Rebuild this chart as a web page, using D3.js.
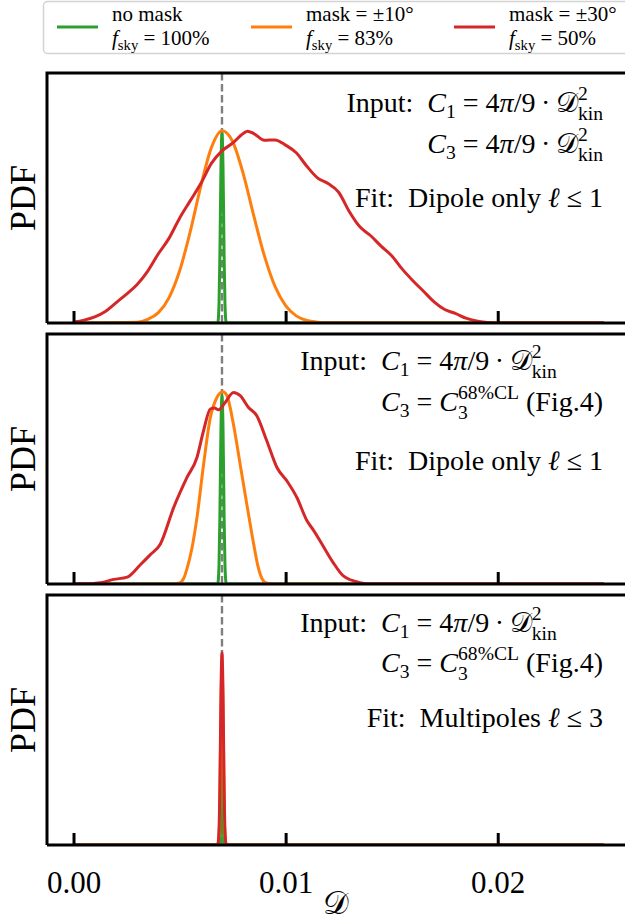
<!DOCTYPE html>
<html><head><meta charset="utf-8">
<script src="https://cdn.jsdelivr.net/npm/d3@7"></script>
<style>
body{margin:0;background:#fff}
svg{display:block}
text{font-family:"Liberation Serif","DejaVu Serif",serif;white-space:pre;fill:#000}
</style>
</head><body><svg id="c" width="625" height="920"></svg>
<script>
// ---------- data ----------
const xTicks = [0, 0.01, 0.02];
const xTickLabels = ["0.00", "0.01", "0.02"];
const trueD = 0.007;
const seriesColors = ["#2ca02c", "#ff7f0e", "#d62728"];
const legendLine1 = ["no mask", "mask = ±10°", "mask = ±30°"];
const legendFsky = ["100%", "83%", "50%"];

// Panel 1 (Input C3 = 4pi/9 Dkin^2, dipole-only fit)
const p1GreenD   = [0, 0.0068, 0.00686, 0.0069, 0.00695, 0.0070, 0.00705, 0.0071, 0.00714, 0.0072, 0.025];
const p1GreenPdf = [0, 0, 0.1, 0.35, 0.8, 0.99, 0.8, 0.35, 0.1, 0, 0];
const p1OrangeD   = [0, 0.0030, 0.0035, 0.0040, 0.0045, 0.0050, 0.0055, 0.0060, 0.0065, 0.0070, 0.0075, 0.0080, 0.0085, 0.0090, 0.0095, 0.0100, 0.0105, 0.0110, 0.0115, 0.0120, 0.025];
const p1OrangePdf = [0, 0.004, 0.019, 0.054, 0.131, 0.270, 0.474, 0.711, 0.912, 1.0, 0.944, 0.777, 0.557, 0.349, 0.190, 0.090, 0.037, 0.013, 0.004, 0.001, 0];
const p1RedD   = [0, 0.0005, 0.0010, 0.0015, 0.0020, 0.0025, 0.0030, 0.0035, 0.0040, 0.0045, 0.0050, 0.0055, 0.0060, 0.0065, 0.0070, 0.0075, 0.0080, 0.0082, 0.0085, 0.0090, 0.0095, 0.0100, 0.0105, 0.0110, 0.0115, 0.0120, 0.0125, 0.0130, 0.0135, 0.0140, 0.0145, 0.0150, 0.0155, 0.0160, 0.0165, 0.0170, 0.0175, 0.0180, 0.0185, 0.0190, 0.0195, 0.0200, 0.025];
const p1RedPdf = [0.005, 0.015, 0.032, 0.060, 0.105, 0.150, 0.200, 0.270, 0.360, 0.440, 0.545, 0.635, 0.725, 0.830, 0.895, 0.935, 0.985, 0.997, 0.985, 0.950, 0.952, 0.925, 0.885, 0.815, 0.755, 0.725, 0.680, 0.580, 0.500, 0.455, 0.400, 0.350, 0.280, 0.220, 0.165, 0.110, 0.070, 0.050, 0.025, 0.010, 0.003, 0, 0];

// Panel 2 (Input C3 = C3^68%CL, dipole-only fit)
const p2GreenD   = [0, 0.0068, 0.00686, 0.0069, 0.00695, 0.0070, 0.00705, 0.0071, 0.00714, 0.0072, 0.025];
const p2GreenPdf = [0, 0, 0.1, 0.35, 0.8, 0.98, 0.8, 0.35, 0.1, 0, 0];
const p2OrangeD   = [0, 0.0046, 0.0050, 0.0052, 0.00535, 0.00559, 0.00582, 0.00613, 0.00645, 0.00676, 0.00704, 0.00723, 0.00754, 0.00786, 0.00817, 0.00849, 0.0087, 0.0089, 0.0091, 0.0094, 0.025];
const p2OrangePdf = [0, 0, 0.005, 0.03, 0.08, 0.19, 0.345, 0.62, 0.865, 0.97, 1.0, 0.98, 0.83, 0.62, 0.415, 0.21, 0.09, 0.025, 0.005, 0, 0];
const p2RedD   = [0, 0.0005, 0.00127, 0.0019, 0.00253, 0.00315, 0.0036, 0.00409, 0.00472, 0.00535, 0.00582, 0.00613, 0.00645, 0.00665, 0.00684, 0.00715, 0.00754, 0.00786, 0.00825, 0.00864, 0.00911, 0.00959, 0.01006, 0.01053, 0.0110, 0.01131, 0.01162, 0.01194, 0.01225, 0.01272, 0.0135, 0.0140, 0.025];
const p2RedPdf = [0, 0.001, 0.007, 0.024, 0.036, 0.10, 0.15, 0.207, 0.397, 0.554, 0.658, 0.797, 0.91, 0.915, 0.906, 0.944, 0.996, 0.979, 0.918, 0.875, 0.745, 0.606, 0.536, 0.45, 0.33, 0.28, 0.225, 0.165, 0.11, 0.042, 0.007, 0, 0];

// Panel 3 (Input C3 = C3^68%CL, multipole fit)
const p3GreenD   = [0, 0.0069, 0.00695, 0.00698, 0.0070, 0.00702, 0.00705, 0.0071, 0.025];
const p3GreenPdf = [0, 0, 0.2, 0.7, 0.9, 0.7, 0.2, 0, 0];
const p3OrangeD   = [0, 0.0068, 0.00688, 0.00694, 0.0070, 0.00706, 0.00712, 0.0072, 0.025];
const p3OrangePdf = [0, 0, 0.1, 0.6, 0.95, 0.6, 0.1, 0, 0];
const p3RedD   = [0, 0.0068, 0.00686, 0.0069, 0.00695, 0.0070, 0.00705, 0.0071, 0.00714, 0.0072, 0.025];
const p3RedPdf = [0, 0, 0.08, 0.3, 0.78, 1.0, 0.78, 0.3, 0.08, 0, 0];

const panels = [
  {series: [[p1GreenD, p1GreenPdf], [p1OrangeD, p1OrangePdf], [p1RedD, p1RedPdf]]},
  {series: [[p2GreenD, p2GreenPdf], [p2OrangeD, p2OrangePdf], [p2RedD, p2RedPdf]]},
  {series: [[p3GreenD, p3GreenPdf], [p3OrangeD, p3OrangePdf], [p3RedD, p3RedPdf]]}
];

// ---------- layout ----------
const SERIF = "Liberation Serif";
const svg = d3.select("#c");
const L = 47, R = 625, PH = 250;
const tops = [73, 334, 595];
const x = d3.scaleLinear().domain([-0.00125, 0.026]).range([L, R]);
const FS = 28;

function mathText(g, pieces, px, py, anchor, fs, measureOnly) {
  const grp = g.append("g");
  let cx = 0;
  pieces.forEach(p => {
    if (p.stack) {
      const t = grp.append("text").attr("font-family", SERIF).attr("font-size", 0.7 * fs);
      const a = t.append("tspan").attr("x", cx).attr("y", -0.42 * fs).text(p.stack[0].t);
      const b = t.append("tspan").attr("x", cx).attr("y", 0.27 * fs).text(p.stack[1].t);
      cx += Math.max(a.node().getComputedTextLength(), b.node().getComputedTextLength());
    } else {
      const size = (p.sub || p.sup) ? 0.7 * fs : fs;
      const dy = p.sub ? 0.22 * fs : (p.sup ? -0.42 * fs : 0);
      const t = grp.append("text").attr("x", cx).attr("y", dy).attr("font-size", size)
        .attr("font-family", SERIF).attr("font-style", p.it ? "italic" : "normal").text(p.t);
      cx += t.node().getComputedTextLength();
    }
  });
  if (measureOnly) { grp.remove(); return cx; }
  const off = anchor === "end" ? -cx : anchor === "middle" ? -cx / 2 : 0;
  grp.attr("transform", `translate(${px + off},${py})`);
  return cx;
}

const dkin = [{t: "= 4"}, {t: "π", it: true}, {t: "/9\u2009·\u2009"}, {t: "𝒟"}, {stack: [{t: "2"}, {t: "kin"}]}];
const c3cl = [{t: "= "}, {t: "C", it: true}, {stack: [{t: "68%CL"}, {t: "3"}]}, {t: " (Fig.4)"}];
const inputLeft = [{t: "Input:  "}, {t: "C", it: true}, {t: "1", sub: true}, {t: " "}];
const c3Left = [{t: "C", it: true}, {t: "3", sub: true}, {t: " "}];
const panelText = [
  {ys: [112, 153, 207], l2: dkin, fit: [{t: "Fit:  Dipole only "}, {t: "ℓ", it: true}, {t: " ≤ 1"}]},
  {ys: [370, 411, 470], l2: c3cl, fit: [{t: "Fit:  Dipole only "}, {t: "ℓ", it: true}, {t: " ≤ 1"}]},
  {ys: [632, 672, 727], l2: c3cl, fit: [{t: "Fit:  Multipoles "}, {t: "ℓ", it: true}, {t: " ≤ 3"}]}
];
const textRight = 603;

panels.forEach((pn, i) => {
  const top = tops[i], bot = top + PH;
  const y = d3.scaleLinear().domain([0, 1.3]).range([bot, top]);
  const g = svg.append("g");
  const clipId = "clip" + i;
  g.append("clipPath").attr("id", clipId).append("rect").attr("x", L).attr("y", top).attr("width", R - L).attr("height", PH);
  const plot = g.append("g").attr("clip-path", `url(#${clipId})`);
  // true value dashed line
  plot.append("line").attr("x1", x(trueD)).attr("x2", x(trueD)).attr("y1", top).attr("y2", bot)
    .attr("stroke", "#7f7f7f").attr("stroke-width", 2.4).attr("stroke-dasharray", "7.5,3.5");
  const line = d3.line().x(d => x(d[0])).y(d => y(d[1])).curve(d3.curveMonotoneX);
  pn.series.forEach((s, k) => {
    const pts = s[0].map((d, j) => [d, s[1][j]]);
    plot.append("path").attr("d", line(pts)).attr("fill", "none")
      .attr("stroke", seriesColors[k]).attr("stroke-width", 3).attr("stroke-linejoin", "round");
  });
  // texts
  const t = panelText[i];
  const eq = textRight - mathText(g, t.l2, 0, 0, "start", FS, true);
  mathText(g, inputLeft, eq, t.ys[0], "end", FS);
  mathText(g, dkin, eq, t.ys[0], "start", FS);
  mathText(g, c3Left, eq, t.ys[1], "end", FS);
  mathText(g, t.l2, eq, t.ys[1], "start", FS);
  mathText(g, t.fit, textRight, t.ys[2], "end", FS);
  // spines
  g.append("path").attr("d", `M${R + 5},${top}H${L}V${bot}`).attr("fill", "none").attr("stroke", "#000").attr("stroke-width", 3);
  const ax = d3.axisBottom(x).tickValues(xTicks).tickSizeInner(-12).tickSizeOuter(0).tickPadding(26)
    .tickFormat((d, j) => i === 2 ? xTickLabels[j] : "");
  const axg = g.append("g").attr("transform", `translate(0,${bot})`).call(ax);
  axg.select(".domain").attr("stroke-width", 3).attr("d", `M${L},0H${R + 5}`);
  axg.selectAll(".tick line").attr("stroke-width", 3);
  axg.selectAll(".tick text").attr("font-size", 31).attr("font-family", SERIF);
  // y label
  svg.append("text").attr("transform", `translate(35,${top + PH / 2}) rotate(-90)`)
    .attr("text-anchor", "middle").attr("font-family", SERIF).attr("font-size", 36).text("PDF");
});

// x label
svg.append("text").attr("x", (L + R) / 2).attr("y", 914).attr("text-anchor", "middle")
  .attr("font-family", SERIF).attr("font-size", 32).text("𝒟");

// legend
const lg = svg.append("g");
lg.append("rect").attr("x", 43.5).attr("y", 1.5).attr("width", 640).attr("height", 52).attr("rx", 4)
  .attr("fill", "#fff").attr("stroke", "#d3d3d3").attr("stroke-width", 1.5);
const lx = [57, 251, 454];
seriesColors.forEach((c, k) => {
  lg.append("line").attr("x1", lx[k]).attr("x2", lx[k] + 41).attr("y1", 27).attr("y2", 27)
    .attr("stroke", c).attr("stroke-width", 3);
  lg.append("text").attr("x", lx[k] + 55).attr("y", 21).attr("font-family", SERIF).attr("font-size", 21).text(legendLine1[k]);
  mathText(lg, [{t: "f", it: true}, {t: "sky", sub: true}, {t: " = " + legendFsky[k]}], lx[k] + 55, 45, "start", 21);
});
</script>
</body></html>
